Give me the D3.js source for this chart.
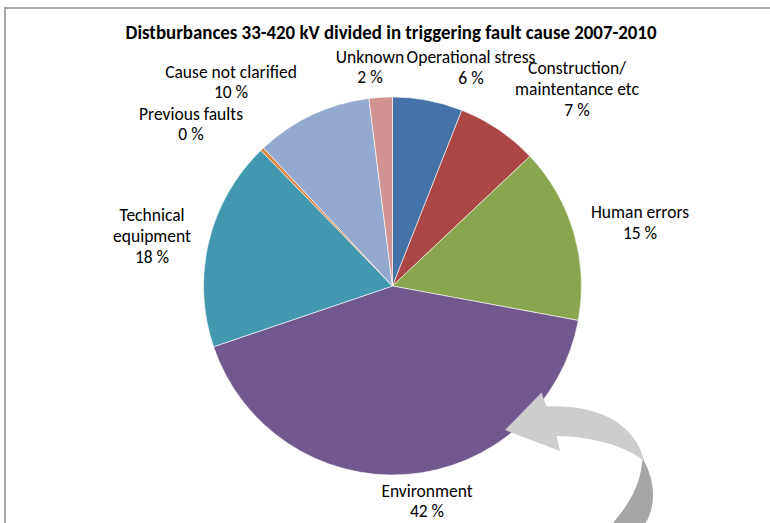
<!DOCTYPE html>
<html>
<head>
<meta charset="utf-8">
<script src="https://cdn.jsdelivr.net/npm/d3@7/dist/d3.min.js"></script>
<style>
  html, body { margin: 0; padding: 0; background: #fff; }
  svg { display: block; }
  text { font-family: Carlito, Lato, "Open Sans", sans-serif; fill: #000; }
</style>
</head>
<body>
<svg id="chart" width="770" height="523"></svg>
<script>
// Disturbance counts by triggering fault cause, share in percent (clockwise from 12 o'clock)
const causes = ["Operational stress", "Construction/ maintentance etc", "Human errors", "Environment",
                "Technical equipment", "Previous faults", "Cause not clarified", "Unknown"];
const shares = [6, 7, 15, 42, 18, 0.3, 10, 2];
const shareLabels = ["6 %", "7 %", "15 %", "42 %", "18 %", "0 %", "10 %", "2 %"];
const colors = ["#4572A7", "#AA4643", "#89A54E", "#71588F", "#4198AF", "#DB843D", "#93A9CF", "#D19392"];
const title = "Distburbances 33-420 kV divided in triggering fault cause 2007-2010";

// Label text lines and their anchor (centre x, first baseline y)
const labelLines = [
  ["Operational stress"], ["Construction/", "maintentance etc"], ["Human errors"], ["Environment"],
  ["Technical", "equipment"], ["Previous faults"], ["Cause not clarified"], ["Unknown"]
];
const labelAnchors = [
  [471, 63], [577, 74], [640, 218], [427, 497],
  [152, 221], [191, 120], [231, 78], [370, 63]
];
const lineGaps = [21, 21, 21, 20, 21, 20, 20, 20];

const svg = d3.select("#chart");

// chart frame
svg.append("rect")
  .attr("x", 5).attr("y", 8).attr("width", 800).attr("height", 600)
  .attr("fill", "none").attr("stroke", "#A9A9A9").attr("stroke-width", 2);

// pie
const cx = 392.5, cy = 286, radius = 189;
const pie = d3.pie().sort(null).value(d => d).startAngle(0).endAngle(2 * Math.PI);
const arc = d3.arc().innerRadius(0).outerRadius(radius);
const g = svg.append("g").attr("transform", `translate(${cx},${cy})`);
g.selectAll("path.slice")
  .data(pie(shares))
  .join("path")
  .attr("class", "slice")
  .attr("d", arc)
  .attr("fill", (d, i) => colors[i])
  .attr("stroke", "#ffffff")
  .attr("stroke-width", 0.6)
  .attr("stroke-linejoin", "round");

// condense text to Calibri-like widths
function condense(sel, factor) {
  sel.each(function () {
    const w = this.getComputedTextLength();
    d3.select(this).attr("textLength", w * factor).attr("lengthAdjust", "spacingAndGlyphs");
  });
}

// title
const titleText = svg.append("text")
  .attr("x", 391).attr("y", 39)
  .attr("text-anchor", "middle")
  .attr("font-size", 19.5).attr("font-weight", "bold")
  .text(title);
{
  const w = titleText.node().getComputedTextLength();
  titleText.attr("textLength", Math.min(w, 531)).attr("lengthAdjust", "spacingAndGlyphs");
}

// data labels
const labelG = svg.append("g").attr("font-size", 17.5);
const probe = labelG.append("text").text("Environment");
const factor = Math.min(1, 94 / probe.node().getComputedTextLength());
probe.remove();

causes.forEach((c, i) => {
  const [x, y] = labelAnchors[i];
  const lines = labelLines[i].concat([shareLabels[i]]);
  const t = labelG.append("text").attr("text-anchor", "middle");
  lines.forEach((ln, j) => {
    t.append("tspan").attr("x", x).attr("y", y + j * lineGaps[i]).text(ln);
  });
  condense(t.selectAll("tspan"), factor);
});

// curved call-out arrow pointing at the Environment slice
svg.append("path")
  .attr("d", "M505,430 L541.5,392.5 L546.5,406.5 C598,404 636,424 644,461 C628,447 592,436 556.5,436 L560,451 Z")
  .attr("fill", "#CDCDCD");
svg.append("path")
  .attr("d", "M643,459 C655,480 657,505 645,524 L612,524 C628,506 640,486 642,463 Z")
  .attr("fill", "#A6A6A6");
</script>
</body>
</html>
